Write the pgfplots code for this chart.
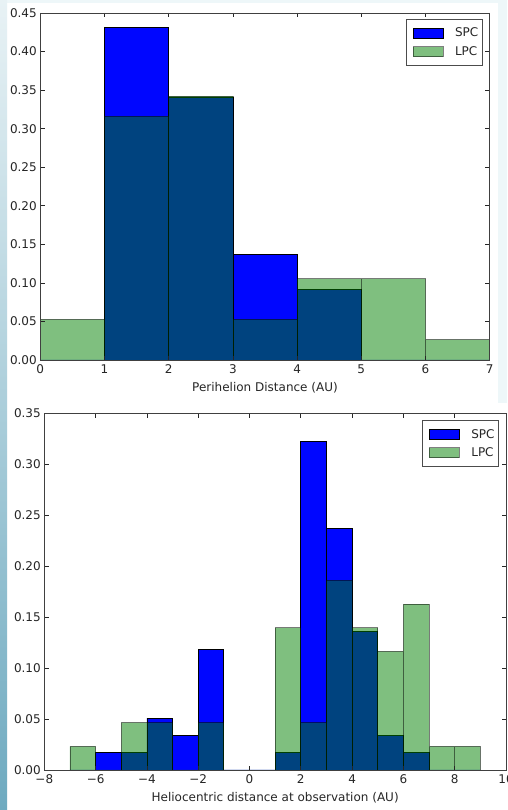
\documentclass[border=0pt]{standalone}
\usepackage{fontspec}
\setmainfont{DejaVu Sans}
\usepackage{pgfplots}
\pgfplotsset{compat=1.18}
\definecolor{spc}{RGB}{0,6,255}
\definecolor{lpc}{RGB}{0,128,0}
\definecolor{bgc}{RGB}{238,247,249}
\definecolor{stripTop}{RGB}{232,242,245}
\definecolor{stripMid}{RGB}{200,225,233}
\definecolor{stripBot}{RGB}{110,170,192}
\pgfplotsset{
  hist/.style={ybar interval, line width=0.8pt,
    legend image code/.code={\path[draw=none,fill=none] (-5pt,0pt) -- (40pt,0pt);\draw[##1] (0pt,-5pt) rectangle (30pt,5pt);}},
  myaxis/.style={
    scale only axis, anchor=south west, axis on top,
    tick pos=both, tick align=inside,
    axis line style={black!75, line width=0.9pt},
    major tick style={black!85, line width=0.7pt},
    major tick length=4.3pt,
    tick label style={font=\fontsize{12}{14}\selectfont, text=black!85},
    xticklabel style={yshift=-1.5pt},
    label style={font=\fontsize{12}{14}\selectfont, text=black!85},
    xlabel style={at={(axis description cs:0.5,0)}, anchor=center, yshift=-28pt},
    ymin=0,
    legend style={at={(1,1)}, anchor=north east, draw=black!70, line width=0.9pt,
      fill=white, inner xsep=2pt, inner ysep=6.5pt, row sep=4pt,
      font=\fontsize{12}{14}\selectfont, text=black!85},
    legend cell align=left,
  },
}
\pgfplotstableread{
x spc lpc
0 0 0.052632
1 0.431818 0.315789
2 0.340909 0.342105
3 0.136364 0.052632
4 0.090909 0.105263
5 0 0.105263
6 0 0.026316
7 0 0
}\toptab
\pgfplotstableread{
x spc lpc
-7 0 0.023256
-6 0.016949 0
-5 0.016949 0.046512
-4 0.050847 0.046512
-3 0.033898 0
-2 0.118644 0.046512
-1 0 0
0 0 0
1 0.016949 0.139535
2 0.322034 0.046512
3 0.237288 0.186047
4 0.135593 0.139535
5 0.033898 0.116279
6 0.016949 0.162791
7 0 0.023256
8 0 0.023256
9 0 0
}\bottab
\begin{document}
\begin{tikzpicture}
\begin{scope}
\clip (0pt,0pt) rectangle (507pt,810pt);
\fill[bgc] (0pt,0pt) rectangle (507pt,810pt);
\fill[white] (7pt,407pt) rectangle (498pt,807pt);
\fill[white] (7pt,0pt) rectangle (507pt,407pt);
\shade[top color=stripTop, middle color=stripMid, bottom color=stripBot] (0pt,0pt) rectangle (7pt,810pt);

\begin{axis}[myaxis, at={(40.3pt,450pt)}, width=449.4pt, height=347pt,
  xmin=0, xmax=7, ymax=0.45,
  xtick={0,1,...,7},
  xticklabels={0,1,2,3,4,5,6,7},
  ytick={0,0.05,...,0.45},
  yticklabels={0.00,0.05,0.10,0.15,0.20,0.25,0.30,0.35,0.40,0.45},
  xlabel={Perihelion Distance (AU)},
  legend style={xshift=-7pt, yshift=-6pt},
]
\addplot[hist, fill=spc, draw=black] table[x=x, y=spc] {\toptab};
\addlegendentry{SPC}
\addplot[hist, fill=lpc, draw=black, fill opacity=0.5, draw opacity=0.5] table[x=x, y=lpc] {\toptab};
\addlegendentry{LPC}
\end{axis}

\begin{axis}[myaxis, at={(44.3pt,40pt)}, width=461.7pt, height=356.7pt,
  xmin=-8, xmax=10, ymax=0.35,
  xtick={-8,-6,...,10},
  xticklabels={−8,−6,−4,−2,0,2,4,6,8,10},
  ytick={0,0.05,...,0.35},
  yticklabels={0.00,0.05,0.10,0.15,0.20,0.25,0.30,0.35},
  xlabel={Heliocentric distance at observation (AU)},
  legend style={xshift=-7pt, yshift=-7pt},
]
\addplot[hist, fill=spc, draw=black] table[x=x, y=spc] {\bottab};
\addlegendentry{SPC}
\addplot[hist, fill=lpc, draw=black, fill opacity=0.5, draw opacity=0.5] table[x=x, y=lpc] {\bottab};
\addlegendentry{LPC}
\end{axis}
\end{scope}
\pgfresetboundingbox
\useasboundingbox (0pt,0pt) rectangle (507pt,810pt);
\end{tikzpicture}
\end{document}
